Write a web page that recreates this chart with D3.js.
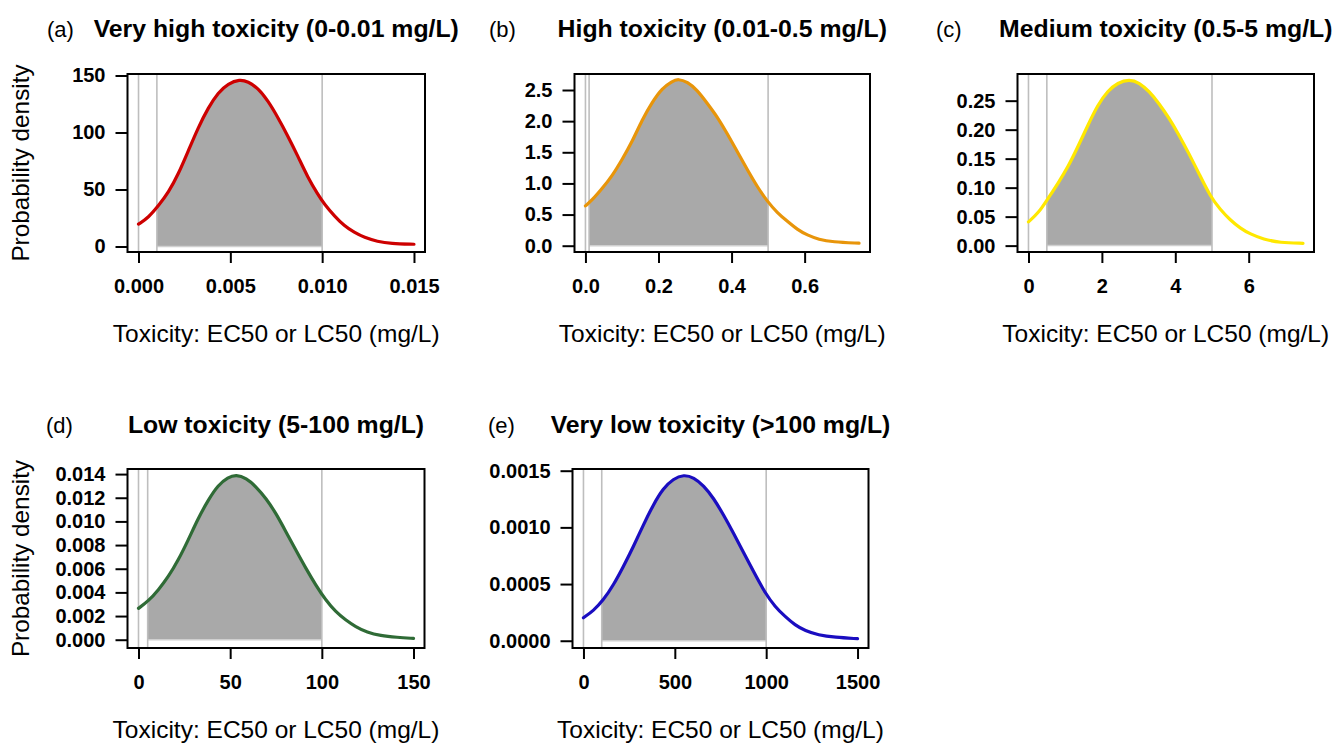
<!DOCTYPE html>
<html><head><meta charset="utf-8">
<script src="https://cdn.jsdelivr.net/npm/d3@7"></script>
<style>
body{margin:0;background:#fff}
svg{display:block}
text{font-family:"Liberation Sans",Arial,Helvetica,sans-serif;fill:#000}
</style>
</head><body>
<svg id="chart" width="1333" height="744"></svg>
<script>
// ---------------- DATA ----------------
const panelLabels = ["(a)", "(b)", "(c)", "(d)", "(e)"];
const titles = [
  "Very high toxicity (0-0.01 mg/L)",
  "High toxicity (0.01-0.5 mg/L)",
  "Medium toxicity (0.5-5 mg/L)",
  "Low toxicity (5-100 mg/L)",
  "Very low toxicity (>100 mg/L)"
];
const xAxisTitle = "Toxicity: EC50 or LC50 (mg/L)";
const yAxisTitle = "Probability density";
const curveColors = ["#CD0000", "#E8950A", "#FFE800", "#2F6B36", "#1A0DC0"];

// (a) very high toxicity
const xA = [0, 0.00054, 0.00108, 0.00163, 0.00217, 0.00271, 0.00325, 0.00380, 0.00434, 0.00488, 0.00551, 0.00596, 0.00651, 0.00705, 0.00759, 0.00813, 0.00867, 0.00922, 0.00976, 0.01012, 0.01066, 0.01120, 0.01175, 0.01229, 0.01301, 0.01373, 0.01500];
const yA = [19.6, 25.4, 35.7, 47.4, 63.5, 83.9, 104.4, 121.9, 135.1, 143.0, 146.6, 144.7, 138.9, 127.8, 113.2, 97.0, 79.5, 60.5, 45.9, 37.1, 26.9, 18.1, 12.3, 7.9, 4.4, 2.6, 2.0];
const linesA = [0, 0.001, 0.01];
const xTicksA = [0, 0.005, 0.01, 0.015];
const xTickLabelsA = ["0.000", "0.005", "0.010", "0.015"];
const yTicksA = [0, 50, 100, 150];
const yTickLabelsA = ["0", "50", "100", "150"];

// (b) high toxicity
const xB = [0, 0.018, 0.046, 0.073, 0.100, 0.128, 0.155, 0.183, 0.210, 0.237, 0.254, 0.279, 0.306, 0.333, 0.361, 0.388, 0.416, 0.443, 0.470, 0.498, 0.525, 0.553, 0.580, 0.607, 0.639, 0.676, 0.749];
const yB = [0.64, 0.73, 0.92, 1.12, 1.38, 1.67, 2.02, 2.31, 2.53, 2.64, 2.68, 2.63, 2.50, 2.29, 2.07, 1.80, 1.51, 1.22, 0.95, 0.71, 0.53, 0.39, 0.26, 0.17, 0.10, 0.06, 0.04];
const linesB = [0, 0.01, 0.5];
const xTicksB = [0, 0.2, 0.4, 0.6];
const xTickLabelsB = ["0.0", "0.2", "0.4", "0.6"];
const yTicksB = [0, 0.5, 1.0, 1.5, 2.0, 2.5];
const yTickLabelsB = ["0.0", "0.5", "1.0", "1.5", "2.0", "2.5"];

// (c) medium toxicity
const xC = [0, 0.27, 0.54, 0.81, 1.08, 1.35, 1.62, 1.89, 2.16, 2.43, 2.75, 3.02, 3.29, 3.56, 3.83, 4.10, 4.37, 4.64, 4.95, 5.23, 5.50, 5.77, 6.04, 6.40, 6.85, 7.48];
const yC = [0.041, 0.056, 0.082, 0.108, 0.136, 0.171, 0.208, 0.243, 0.267, 0.281, 0.287, 0.281, 0.266, 0.245, 0.220, 0.191, 0.159, 0.125, 0.085, 0.062, 0.044, 0.030, 0.020, 0.011, 0.005, 0.004];
const linesC = [0, 0.5, 5];
const xTicksC = [0, 2, 4, 6];
const xTickLabelsC = ["0", "2", "4", "6"];
const yTicksC = [0, 0.05, 0.10, 0.15, 0.20, 0.25];
const yTickLabelsC = ["0.00", "0.05", "0.10", "0.15", "0.20", "0.25"];

// (d) low toxicity
const xD = [0, 5.4, 10.8, 16.3, 21.7, 27.1, 32.5, 38.0, 43.4, 48.8, 53.3, 58.7, 64.2, 69.6, 75.0, 80.4, 85.8, 91.3, 96.7, 102.1, 107.5, 113.0, 118.4, 124.7, 131.9, 141.0, 150.0];
const yD = [0.00265, 0.00327, 0.0042, 0.00532, 0.00673, 0.00842, 0.01025, 0.0118, 0.01307, 0.01372, 0.01396, 0.01366, 0.01293, 0.01194, 0.01068, 0.00913, 0.00758, 0.00603, 0.00462, 0.00335, 0.00237, 0.00166, 0.0011, 0.00062, 0.00034, 0.0002, 0.00011];
const linesD = [0, 5, 100];
const xTicksD = [0, 50, 100, 150];
const xTickLabelsD = ["0", "50", "100", "150"];
const yTicksD = [0, 0.002, 0.004, 0.006, 0.008, 0.010, 0.012, 0.014];
const yTickLabelsD = ["0.000", "0.002", "0.004", "0.006", "0.008", "0.010", "0.012", "0.014"];

// (e) very low toxicity
const xE = [0, 55, 109, 164, 218, 273, 327, 382, 436, 491, 549, 604, 658, 713, 767, 822, 876, 931, 995, 1049, 1104, 1158, 1213, 1285, 1376, 1500];
const yE = [0.000203, 0.000265, 0.000359, 0.000491, 0.000653, 0.000829, 0.00102, 0.0012, 0.001344, 0.001428, 0.001466, 0.00144, 0.001368, 0.001256, 0.001109, 0.000947, 0.000779, 0.000609, 0.000418, 0.0003, 0.000212, 0.000138, 0.000088, 0.00005, 0.00003, 0.000018];
const linesE = [0, 100, 1000];
const xTicksE = [0, 500, 1000, 1500];
const xTickLabelsE = ["0", "500", "1000", "1500"];
const yTicksE = [0, 0.0005, 0.0010, 0.0015];
const yTickLabelsE = ["0.0000", "0.0005", "0.0010", "0.0015"];

// ---------------- LAYOUT ----------------
const layout = [
  {left: 127.5, right: 425, top: 74, bottom: 252, labelX: 47, titleY: 37, yDom: [-4.8, 151.3], yTitle: true},
  {left: 574.5, right: 870, top: 74, bottom: 252, labelX: 489, titleY: 37, yDom: [-0.101, 2.757], yTitle: false},
  {left: 1017.5, right: 1314, top: 74, bottom: 252, labelX: 936, titleY: 37, yDom: [-0.011, 0.296], yTitle: false},
  {left: 127.5, right: 424.5, top: 469, bottom: 648, labelX: 46, titleY: 433, yDom: [-0.0007, 0.01443], yTitle: true},
  {left: 572.5, right: 868.5, top: 469, bottom: 648, labelX: 488, titleY: 433, yDom: [-0.000064, 0.001515], yTitle: false}
];

const panels = [
  {xs: xA, ys: yA, lines: linesA, xt: xTicksA, xtl: xTickLabelsA, yt: yTicksA, ytl: yTickLabelsA},
  {xs: xB, ys: yB, lines: linesB, xt: xTicksB, xtl: xTickLabelsB, yt: yTicksB, ytl: yTickLabelsB},
  {xs: xC, ys: yC, lines: linesC, xt: xTicksC, xtl: xTickLabelsC, yt: yTicksC, ytl: yTickLabelsC},
  {xs: xD, ys: yD, lines: linesD, xt: xTicksD, xtl: xTickLabelsD, yt: yTicksD, ytl: yTickLabelsD},
  {xs: xE, ys: yE, lines: linesE, xt: xTicksE, xtl: xTickLabelsE, yt: yTicksE, ytl: yTickLabelsE}
];

const svg = d3.select("#chart");
svg.append("rect").attr("width", 1333).attr("height", 744).attr("fill", "#fff");
const defs = svg.append("defs");

panels.forEach((p, i) => {
  const L = layout[i];
  const g = svg.append("g");
  const xmax = d3.max(p.xs);
  const pad = 0.04 * xmax;
  const x = d3.scaleLinear().domain([-pad, xmax + pad]).range([L.left, L.right]);
  const y = d3.scaleLinear().domain(L.yDom).range([L.bottom, L.top]);
  const pts = p.xs.map((v, k) => [v, p.ys[k]]);
  const lo = p.lines[1], hi = p.lines[2];

  defs.append("clipPath").attr("id", "fillclip" + i)
    .append("rect")
    .attr("x", x(lo)).attr("y", L.top)
    .attr("width", x(hi) - x(lo)).attr("height", L.bottom - L.top);

  const curve = d3.curveBasis;
  const area = d3.area().x(d => x(d[0])).y0(y(0)).y1(d => y(d[1])).curve(curve);
  const line = d3.line().x(d => x(d[0])).y(d => y(d[1])).curve(curve);

  g.append("path").attr("d", area(pts)).attr("fill", "#A9A9A9")
    .attr("clip-path", `url(#fillclip${i})`);
  g.append("line").attr("x1", x(lo)).attr("x2", x(hi))
    .attr("y1", y(0)).attr("y2", y(0))
    .attr("stroke", "#D0D0D0").attr("stroke-width", 1.5);

  g.selectAll("line.vl").data(p.lines).join("line").attr("class", "vl")
    .attr("x1", d => x(d)).attr("x2", d => x(d))
    .attr("y1", L.top).attr("y2", L.bottom)
    .attr("stroke", "#BEBEBE").attr("stroke-width", 1.6);

  g.append("path").attr("d", line(pts)).attr("fill", "none")
    .attr("stroke", curveColors[i]).attr("stroke-width", 3.2)
    .attr("stroke-linejoin", "round").attr("stroke-linecap", "round");

  g.append("rect").attr("x", L.left).attr("y", L.top)
    .attr("width", L.right - L.left).attr("height", L.bottom - L.top)
    .attr("fill", "none").attr("stroke", "#000").attr("stroke-width", 2);

  const xAxis = d3.axisBottom(x).tickValues(p.xt).tickFormat((d, k) => p.xtl[k])
    .tickSize(11).tickPadding(16).tickSizeOuter(0);
  const xg = g.append("g").attr("transform", `translate(0,${L.bottom})`).call(xAxis);
  const yAxis = d3.axisLeft(y).tickValues(p.yt).tickFormat((d, k) => p.ytl[k])
    .tickSize(12).tickPadding(10).tickSizeOuter(0);
  const yg = g.append("g").attr("transform", `translate(${L.left},0)`).call(yAxis);
  [xg, yg].forEach(a => {
    a.select(".domain").remove();
    a.selectAll(".tick line").attr("stroke", "#000").attr("stroke-width", 2);
    a.selectAll(".tick text").attr("font-size", 20).attr("font-weight", "bold")
      .attr("font-family", '"Liberation Sans", Arial, sans-serif').attr("fill", "#000");
  });

  const cx = (L.left + L.right) / 2;
  g.append("text").attr("x", cx).attr("y", L.titleY).attr("text-anchor", "middle")
    .attr("font-size", 24.8).attr("font-weight", "bold").text(titles[i]);
  g.append("text").attr("x", L.labelX).attr("y", L.titleY)
    .attr("font-size", 22).text(panelLabels[i]);
  g.append("text").attr("x", cx).attr("y", L.bottom + 90).attr("text-anchor", "middle")
    .attr("font-size", 24.5).text(xAxisTitle);
  if (L.yTitle) {
    g.append("text")
      .attr("transform", `translate(29,${(L.top + L.bottom) / 2}) rotate(-90)`)
      .attr("text-anchor", "middle").attr("font-size", 24.3).text(yAxisTitle);
  }
});
</script>
</body></html>
